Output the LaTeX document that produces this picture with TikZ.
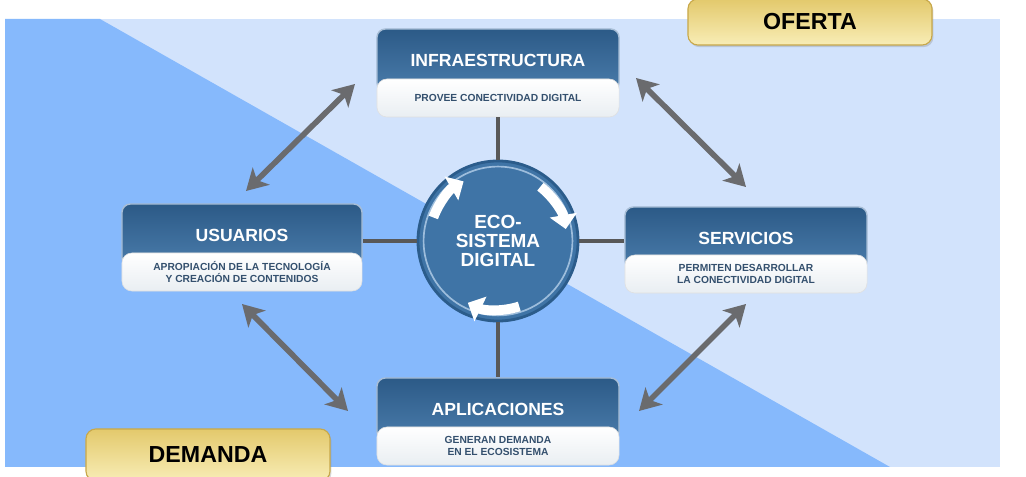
\documentclass[tikz,border=0pt]{standalone}
\usepackage{fontspec}
\setmainfont{Liberation Sans}
\usepackage{tikz}
\usetikzlibrary{arrows.meta,shadows}
\definecolor{BgLight}{HTML}{D2E3FC}
\definecolor{BgDark}{HTML}{86B9FC}
\definecolor{HeadTop}{HTML}{2C5A87}
\definecolor{HeadBot}{HTML}{4A7CAB}
\definecolor{HeadLine}{HTML}{A8BED6}
\definecolor{SubText}{HTML}{34506E}
\definecolor{SubBot}{HTML}{E9EEF2}
\definecolor{EcoFill}{HTML}{3F74A6}
\definecolor{EcoEdge}{HTML}{2B5C8B}
\definecolor{EcoRing}{HTML}{9DBDDC}
\definecolor{LinkGray}{HTML}{585858}
\definecolor{ArrowGray}{HTML}{6A6B6E}
\definecolor{GoldTop}{HTML}{E3C96C}
\definecolor{GoldBot}{HTML}{F8EDB6}
\definecolor{GoldLine}{HTML}{C8A84A}

\begin{document}
\begin{tikzpicture}[
      x=0.025cm, y=0.025cm, font=\bfseries,
      hbox/.style={rectangle, draw=HeadLine, line width=1pt,
                   rounded corners=6pt, top color=HeadTop,
                   bottom color=HeadBot, text=white, inner sep=0pt,
                   minimum width=6.05cm, minimum height=1.55cm,
                   font=\fontsize{12.5}{12.5}\selectfont\bfseries},
      sbox/.style={rectangle, draw=black!12, rounded corners=7pt,
                   top color=white, bottom color=SubBot, text=SubText,
                   align=center, inner sep=0pt,
                   minimum width=6.05cm, minimum height=0.95cm,
                   font=\fontsize{7.3}{8.6}\selectfont\bfseries},
      gbox/.style={rectangle, draw=GoldLine, line width=0.8pt,
                   rounded corners=7pt, top color=GoldTop,
                   bottom color=GoldBot, text=black,
                   minimum width=6.1cm, minimum height=1.15cm,
                   drop shadow={opacity=0.3, shadow xshift=1pt,
                                shadow yshift=-1.5pt},
                   font=\fontsize{16.5}{16.5}\selectfont\bfseries},
      eco/.style={circle, draw=EcoEdge, line width=2pt, fill=EcoFill,
                  text=white, align=center, minimum size=4cm,
                  font=\fontsize{13.5}{13.5}\selectfont\bfseries},
      link/.style={draw=LinkGray, line width=2.6pt},
      a/.style={{Stealth[length=15pt,width=17pt,inset=4pt]}-{Stealth[length=15pt,width=17pt,inset=4pt]},
                line width=4pt, draw=ArrowGray},
      ca/.style={-{Triangle[length=10pt,width=19pt]}, line width=7pt,
                 draw=white},
    ]
      \clip (0,0) rectangle (1026,-477);
      \fill[white] (0,0) rectangle (1026,-477);
      \fill[BgLight] (5,-19) rectangle (1000,-467);
      \fill[BgDark] (5,-19) -- (100,-19) -- (890,-467) -- (5,-467) -- cycle;

      \node[gbox] (oferta)  at (810,-22)  {OFERTA};
      \node[gbox, minimum height=1.3cm] (demanda) at (208,-455) {DEMANDA};

      \node[hbox] (infra) at (498,-60)  {INFRAESTRUCTURA};
      \node[sbox] (infrasub) at (498,-98) {PROVEE CONECTIVIDAD DIGITAL};

      \node[hbox, minimum width=6cm] (usu) at (242,-235) {USUARIOS};
      \node[sbox, minimum width=6cm] (ususub) at (242,-272)
            {APROPIACIÓN DE LA TECNOLOGÍA\\Y CREACIÓN DE CONTENIDOS};

      \node[hbox] (serv) at (746,-238) {SERVICIOS};
      \node[sbox] (servsub) at (746,-274)
            {PERMITEN DESARROLLAR\\LA CONECTIVIDAD DIGITAL};

      \node[hbox] (apl) at (498,-409) {APLICACIONES};
      \node[sbox] (aplsub) at (498,-446)
            {GENERAN DEMANDA\\EN EL ECOSISTEMA};

      \node[eco] (ecosis) at (498,-241) {ECO-\\SISTEMA\\DIGITAL};
      \draw[EcoRing, line width=1.2pt] (ecosis.center) circle[radius=1.86cm];

      \draw[link] (infrasub.south) -- (ecosis.north);
      \draw[link] (ecosis.west) -- (ecosis.west -| usu.east);
      \draw[link] (ecosis.east) -- (ecosis.east -| serv.west);
      \draw[link] (ecosis.south) -- (apl.north);

      \draw[ca] (ecosis.center) ++(160:1.72cm)
                arc[start angle=160, end angle=120, radius=1.72cm];
      \draw[ca] (ecosis.center) ++(52:1.72cm)
                arc[start angle=52, end angle=10, radius=1.72cm];
      \draw[ca] (ecosis.center) ++(-72:1.72cm)
                arc[start angle=-72, end angle=-116, radius=1.72cm];

      \coordinate (a1s) at (246,-191);
      \coordinate (a1e) at (355,-84);
      \coordinate (a2s) at (636,-78);
      \coordinate (a2e) at (746,-187);
      \coordinate (a3s) at (242,-304);
      \coordinate (a3e) at (348,-411);
      \coordinate (a4s) at (746,-304);
      \coordinate (a4e) at (639,-411);
      \draw[a] (a1s) -- (a1e);
      \draw[a] (a2s) -- (a2e);
      \draw[a] (a3s) -- (a3e);
      \draw[a] (a4s) -- (a4e);
    \end{tikzpicture}
\end{document}
